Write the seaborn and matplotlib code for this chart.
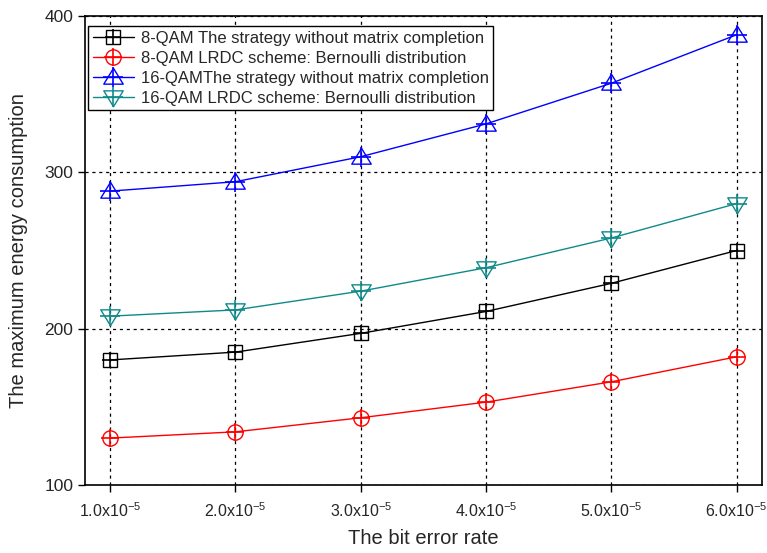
import numpy as np
import matplotlib
matplotlib.use("Agg")
import matplotlib.pyplot as plt
from matplotlib.path import Path
from matplotlib.legend_handler import HandlerTuple
import seaborn as sns

ber = [1.0, 2.0, 3.0, 4.0, 5.0, 6.0]
xtick_labels = [r"1.0x10$^{-5}$", r"2.0x10$^{-5}$", r"3.0x10$^{-5}$",
                r"4.0x10$^{-5}$", r"5.0x10$^{-5}$", r"6.0x10$^{-5}$"]
qam8_nomc = [180, 185, 197, 211, 229, 250]
qam8_lrdc = [130, 134, 143, 153, 166, 182]
qam16_nomc = [288, 294, 310, 331, 357, 388]
qam16_lrdc = [208, 212, 224, 239, 258, 280]
labels = ["8-QAM The strategy without matrix completion",
          "8-QAM LRDC scheme: Bernoulli distribution",
          "16-QAMThe strategy without matrix completion",
          "16-QAM LRDC scheme: Bernoulli distribution"]

sns.set_theme(style="white")
plt.rcParams['font.family'] = ['Liberation Sans', 'DejaVu Sans']
plt.rcParams['mathtext.fontset'] = 'custom'
plt.rcParams['mathtext.rm'] = 'Liberation Sans'
plt.rcParams['mathtext.it'] = 'Liberation Sans'

tri_up = Path([(0, 0.9), (-0.95, -0.65), (0.95, -0.65), (0, 0.9)],
              [Path.MOVETO, Path.LINETO, Path.LINETO, Path.CLOSEPOLY])
tri_dn = Path([(0, -0.9), (-0.95, 0.65), (0.95, 0.65), (0, -0.9)],
              [Path.MOVETO, Path.LINETO, Path.LINETO, Path.CLOSEPOLY])

series = [qam8_nomc, qam8_lrdc, qam16_nomc, qam16_lrdc]
colors = ["black", "red", "blue", "#0f8a8a"]
markers = ['s', 'o', tri_up, tri_dn]
msizes = [10, 11, 14, 14]
psizes = [11, 13, 15, 15]

fig, ax = plt.subplots(figsize=(7.67, 5.53), dpi=100)
fig.subplots_adjust(left=0.111, right=0.993, top=0.971, bottom=0.123)

handles = []
for ys, c, m, ms, ps, lab in zip(series, colors, markers, msizes, psizes, labels):
    sns.lineplot(x=ber, y=ys, ax=ax, color=c, marker=m, markersize=ms,
                 markerfacecolor='none', markeredgecolor=c, markeredgewidth=1.0,
                 linewidth=1.0, label=lab, zorder=2)
    h1 = ax.lines[-1]
    sns.lineplot(x=ber, y=ys, ax=ax, color=c, marker='+', markersize=ps,
                 markeredgecolor=c, markeredgewidth=1.2, linestyle='none',
                 label='_nolegend_', zorder=4)
    h2 = ax.lines[-1]
    h2.set_marker('+')
    h2.set_markeredgecolor(c)
    h2.set_markeredgewidth(1.2)
    h2.set_markersize(ps)
    h2.set_linestyle('none')
    handles.append((h1, h2))

ax.set_xlim(0.8, 6.2)
ax.set_ylim(100, 400)
ax.set_xticks(ber)
ax.set_xticklabels(xtick_labels, fontsize=11.5)
ax.set_yticks([100, 200, 300, 400])
ax.tick_params(axis='y', labelsize=12.5)
ax.tick_params(axis='both', direction='out', length=5, width=1, color='black',
               bottom=True, left=True)
ax.tick_params(axis='x', pad=7)
ax.grid(True, linestyle=(0, (2.5, 3)), color='black', linewidth=0.9)
for s in ax.spines.values():
    s.set_color('black')
    s.set_linewidth(1.2)
ax.set_xlabel("The bit error rate", fontsize=14.5, labelpad=6)
ax.set_ylabel("The maximum energy consumption", fontsize=14.5, labelpad=12)

leg = ax.legend(handles, labels, handler_map={tuple: HandlerTuple(ndivide=1)},
                loc='upper left', bbox_to_anchor=(0.0, 0.985), fontsize=12,
                frameon=True, fancybox=False, edgecolor='black', framealpha=1,
                borderpad=0.25, labelspacing=0.3, handlelength=2.5,
                handletextpad=0.4, borderaxespad=0.2)
leg.get_frame().set_linewidth(1.0)

fig.savefig("out.png", dpi=100)
